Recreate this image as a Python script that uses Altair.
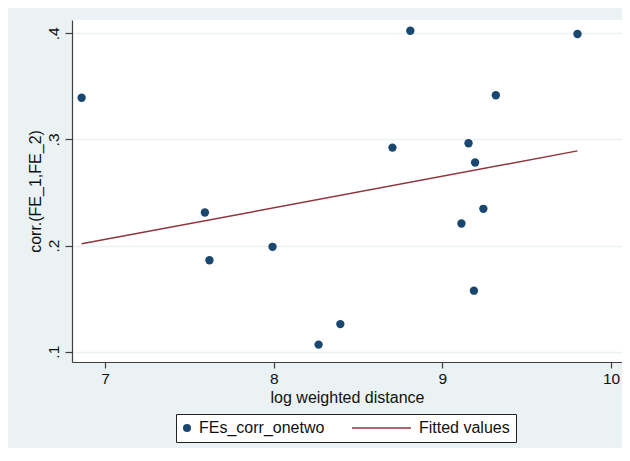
import altair as alt
import pandas as pd

# Scatter points: log weighted distance vs corr.(FE_1,FE_2)
log_dist = [6.861, 7.592, 7.619, 7.993, 8.266, 8.395, 8.704, 8.810,
            9.113, 9.155, 9.187, 9.194, 9.243, 9.317, 9.801]
corr_fe = [0.3392, 0.2311, 0.1862, 0.1988, 0.1067, 0.1260, 0.2923, 0.4024,
           0.2208, 0.2964, 0.1575, 0.2782, 0.2346, 0.3416, 0.3993]

# Fitted line endpoints
fit_x = [6.861, 9.801]
fit_y = [0.2016, 0.2892]

series_names = ["FEs_corr_onetwo", "Fitted values"]
series_colors = ["#1A476F", "#90353B"]

x_ticks = [7, 8, 9, 10]
y_ticks = [0.1, 0.2, 0.3, 0.4]

pts = pd.DataFrame({"x": log_dist, "y": corr_fe, "series": series_names[0]})
fit = pd.DataFrame({"x": fit_x, "y": fit_y, "series": series_names[1]})

FONT = "Liberation Sans"

xscale = alt.Scale(domain=[6.804, 10.065], nice=False, zero=False)
yscale = alt.Scale(domain=[0.0903, 0.4125], nice=False, zero=False)

xaxis = alt.Axis(values=x_ticks, title="log weighted distance", grid=False,
                 tickSize=6, labelPadding=3, titlePadding=3,
                 labelFontSize=15.5, titleFontSize=16, format="d")
yaxis = alt.Axis(values=y_ticks, title="corr.(FE_1,FE_2)", grid=True,
                 gridColor="#EAF2F3", gridWidth=1.5,
                 tickSize=7, labelPadding=4, titlePadding=3,
                 labelAngle=270, labelAlign="center", labelBaseline="bottom",
                 labelExpr="'.' + format(datum.value * 10, 'd')",
                 labelFontSize=15.5, titleFontSize=16)

legend_def = dict(title=None, orient="none", direction="horizontal",
                  legendX=104, legendY=394, padding=6,
                  strokeColor="#222", fillColor="white",
                  symbolSize=64, symbolOffset=-3, labelOffset=4, columnPadding=27,
                  labelFontSize=16, labelFont=FONT, labelColor="#111",
                  symbolStrokeWidth=0)

color = alt.Color("series:N",
                  scale=alt.Scale(domain=series_names, range=series_colors),
                  legend=alt.Legend(**legend_def))
shape = alt.Shape("series:N",
                  scale=alt.Scale(domain=series_names,
                                  range=["circle", "M-13.75,-0.2H1V0.2H-13.75Z"]),
                  legend=alt.Legend(**legend_def))

points = alt.Chart(pts).mark_point(filled=True, size=70, opacity=1, strokeWidth=0).encode(
    x=alt.X("x:Q", scale=xscale, axis=xaxis),
    y=alt.Y("y:Q", scale=yscale, axis=yaxis),
    color=color,
    shape=shape,
)

line = alt.Chart(fit).mark_line(strokeWidth=1.5).encode(
    x=alt.X("x:Q", scale=xscale),
    y=alt.Y("y:Q", scale=yscale),
    color=alt.Color("series:N",
                     scale=alt.Scale(domain=series_names, range=series_colors)),
)

chart = alt.layer(points, line).properties(
    width=550, height=342,
    autosize=alt.AutoSizeParams(type="none"),
    padding={"left": 64, "top": 12, "right": 0, "bottom": 86},
    background="#EAF2F3",
).configure_view(
    fill="white", stroke=None
).configure_axis(
    domainColor="#404040", tickColor="#404040", domainWidth=1.2, tickWidth=1.2,
    labelColor="#111", titleColor="#111", labelFont=FONT, titleFont=FONT,
    titleFontWeight="normal"
)

chart.save("out.html", embed_options={"renderer": "svg", "actions": False})
